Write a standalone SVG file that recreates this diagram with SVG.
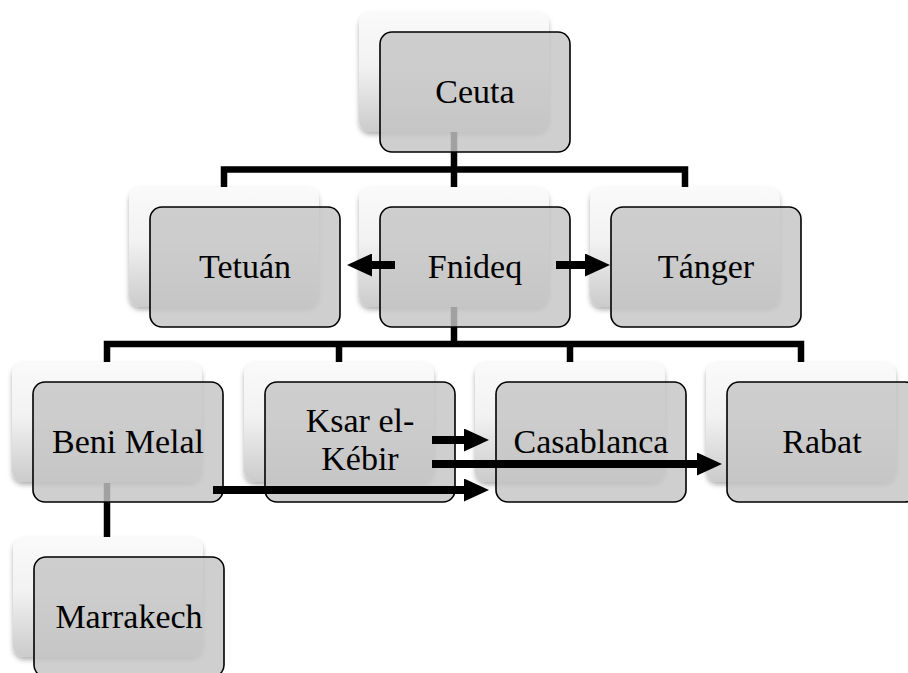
<svg xmlns="http://www.w3.org/2000/svg" width="908" height="673" viewBox="0 0 908 673">
  <style>
    .back { fill: url(#backFill); filter: url(#soft); }
    .card { fill: #c4c4c4; fill-opacity: 0.82; stroke: #000; stroke-width: 1.6; }
    .label { font-family: "Liberation Serif", "Times New Roman", serif; font-size: 34px; fill: #000; text-anchor: middle; }
    .tree { fill: none; stroke: #000; stroke-width: 6.5; stroke-linejoin: miter; }
    .arrow { fill: none; stroke: #000; stroke-width: 8; marker-end: url(#head); }
  </style>
  <defs>
    <linearGradient id="backFill" x1="0" y1="0" x2="0" y2="1">
      <stop offset="0" stop-color="#fafafa"/>
      <stop offset="0.45" stop-color="#f2f2f2"/>
      <stop offset="1" stop-color="#cbcbcb"/>
    </linearGradient>
    <filter id="soft" x="-10%" y="-10%" width="120%" height="125%">
      <feDropShadow dx="0" dy="3" stdDeviation="2.5" flood-color="#000" flood-opacity="0.3"/>
    </filter>
    <marker id="head" markerUnits="userSpaceOnUse" markerWidth="25" markerHeight="23" viewBox="0 0 25 23" refX="0" refY="11.5" orient="auto">
      <path d="M0,0 L25,11.5 L0,23 Z" fill="#000"/>
    </marker>
  </defs>

  <rect width="908" height="673" fill="#fff"/>

  <!-- hierarchy lines, drawn beneath the cards -->
  <g id="links">
    <path class="tree" d="M454,132 V187"/>
    <path class="tree" d="M224,187 V169.5 H685 V187"/>
    <path class="tree" d="M454,307 V344"/>
    <path class="tree" d="M107,363 V344 H801 V363"/>
    <path class="tree" d="M339,344 V363"/>
    <path class="tree" d="M570,344 V363"/>
    <path class="tree" d="M107,483 V537"/>
  </g>

  <g id="nodes">
    <g id="ceuta" transform="translate(380,32)">
      <rect class="back" x="-21" y="-20" width="190" height="120" rx="12"/>
      <rect class="card" x="0" y="0" width="190" height="120" rx="12"/>
      <text class="label" x="95" y="71">Ceuta</text>
    </g>
    <g id="tetuan" transform="translate(150,207)">
      <rect class="back" x="-21" y="-20" width="190" height="120" rx="12"/>
      <rect class="card" x="0" y="0" width="190" height="120" rx="12"/>
      <text class="label" x="95" y="71">Tetuán</text>
    </g>
    <g id="fnideq" transform="translate(380,207)">
      <rect class="back" x="-21" y="-20" width="190" height="120" rx="12"/>
      <rect class="card" x="0" y="0" width="190" height="120" rx="12"/>
      <text class="label" x="95" y="71">Fnideq</text>
    </g>
    <g id="tanger" transform="translate(611,207)">
      <rect class="back" x="-21" y="-20" width="190" height="120" rx="12"/>
      <rect class="card" x="0" y="0" width="190" height="120" rx="12"/>
      <text class="label" x="95" y="71">Tánger</text>
    </g>
    <g id="beni-melal" transform="translate(33,382)">
      <rect class="back" x="-21" y="-20" width="190" height="120" rx="12"/>
      <rect class="card" x="0" y="0" width="190" height="120" rx="12"/>
      <text class="label" x="95" y="71">Beni Melal</text>
    </g>
    <g id="ksar-el-kebir" transform="translate(265,382)">
      <rect class="back" x="-21" y="-20" width="190" height="120" rx="12"/>
      <rect class="card" x="0" y="0" width="190" height="120" rx="12"/>
      <text class="label" x="95" y="50">Ksar el-</text>
      <text class="label" x="95" y="88">Kébir</text>
    </g>
    <g id="casablanca" transform="translate(496,382)">
      <rect class="back" x="-21" y="-20" width="190" height="120" rx="12"/>
      <rect class="card" x="0" y="0" width="190" height="120" rx="12"/>
      <text class="label" x="95" y="71">Casablanca</text>
    </g>
    <g id="rabat" transform="translate(727,382)">
      <rect class="back" x="-21" y="-20" width="190" height="120" rx="12"/>
      <rect class="card" x="0" y="0" width="190" height="120" rx="12"/>
      <text class="label" x="95" y="71">Rabat</text>
    </g>
    <g id="marrakech" transform="translate(34,557)">
      <rect class="back" x="-21" y="-20" width="190" height="120" rx="12"/>
      <rect class="card" x="0" y="0" width="190" height="120" rx="12"/>
      <text class="label" x="95" y="71">Marrakech</text>
    </g>
  </g>

  <!-- directed routes, drawn over the cards -->
  <g id="arrows">
    <path class="arrow" d="M395,265 H372"/>
    <path class="arrow" d="M556,265 H585"/>
    <path class="arrow" d="M432,440 H464"/>
    <path class="arrow" d="M432,464 H697"/>
    <path class="arrow" d="M213,490 H464"/>
  </g>
</svg>
